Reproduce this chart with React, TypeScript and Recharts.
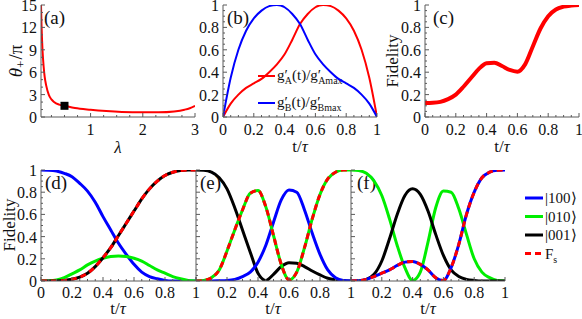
import React from 'react';
import { LineChart, Line, XAxis, YAxis, ReferenceDot } from 'recharts';

const SERIF = '"Liberation Serif", "Times New Roman", Times, serif';
const FRAME = '#5a5a5a';
const INK = '#111';
const RED = '#ff0000';
const BLUE = '#0000ff';
const GREEN = '#00ee00';
const BLACK = '#000000';

// (a) theta_+/pi against lambda
const lambdas = [0.05, 0.06, 0.07, 0.08, 0.1, 0.12, 0.15, 0.2, 0.25, 0.3, 0.4, 0.5, 0.7, 1.0, 1.3, 1.6, 2.0, 2.3, 2.6, 2.8, 2.9, 3.0];
const thetas = [15, 12.3, 10.3, 8.8, 6.8, 5.4, 4.2, 2.95, 2.35, 2.0, 1.65, 1.5, 1.2, 0.97, 0.8, 0.68, 0.62, 0.63, 0.75, 0.98, 1.18, 1.5];
const markLambda = 0.5;
const markTheta = 1.5;

// time grid shared by (b)-(f)
const tGrid = [0, 0.05, 0.1, 0.15, 0.2, 0.25, 0.3, 0.35, 0.4, 0.45, 0.5, 0.55, 0.6, 0.65, 0.7, 0.75, 0.8, 0.85, 0.9, 0.95, 1];

// (b) normalised couplings
const gA = [0, 0.12, 0.2, 0.26, 0.3, 0.34, 0.4, 0.47, 0.56, 0.69, 0.83, 0.92, 0.98, 1.0, 0.99, 0.95, 0.88, 0.77, 0.6, 0.35, 0];
const gB = [0, 0.35, 0.6, 0.77, 0.88, 0.95, 0.99, 1.0, 0.98, 0.92, 0.83, 0.69, 0.56, 0.47, 0.4, 0.34, 0.3, 0.26, 0.2, 0.12, 0];

// (c) fidelity
const fidC = [0.125, 0.127, 0.135, 0.16, 0.2, 0.27, 0.35, 0.43, 0.48, 0.485, 0.455, 0.42, 0.405, 0.47, 0.63, 0.79, 0.9, 0.96, 0.985, 0.995, 1];

// (d) populations
const d100 = [1, 0.998, 0.99, 0.97, 0.94, 0.88, 0.81, 0.71, 0.58, 0.46, 0.34, 0.24, 0.15, 0.08, 0.04, 0.02, 0.005, 0, 0, 0, 0];
const d010 = [0, 0.002, 0.01, 0.03, 0.065, 0.1, 0.145, 0.18, 0.205, 0.22, 0.225, 0.22, 0.205, 0.18, 0.14, 0.1, 0.07, 0.04, 0.02, 0.005, 0];
const d001 = [0, 0, 0.001, 0.005, 0.015, 0.035, 0.07, 0.13, 0.21, 0.3, 0.41, 0.52, 0.63, 0.74, 0.83, 0.9, 0.95, 0.98, 0.995, 1, 1];

// (e) populations
const e100 = [0, 0, 0, 0.002, 0.005, 0.015, 0.04, 0.08, 0.17, 0.32, 0.53, 0.73, 0.82, 0.8, 0.64, 0.43, 0.24, 0.1, 0.03, 0.005, 0];
const e010 = [0, 0.005, 0.03, 0.1, 0.27, 0.46, 0.64, 0.79, 0.815, 0.67, 0.41, 0.15, 0.01, 0.08, 0.3, 0.56, 0.78, 0.92, 0.98, 1, 1];
const e001 = [1, 0.998, 0.98, 0.93, 0.83, 0.66, 0.46, 0.26, 0.07, 0.005, 0.06, 0.13, 0.165, 0.16, 0.13, 0.09, 0.055, 0.025, 0.01, 0.002, 0];

// (f) populations
const f100 = [0, 0.003, 0.015, 0.04, 0.07, 0.1, 0.14, 0.17, 0.175, 0.15, 0.1, 0.03, 0.005, 0.12, 0.33, 0.6, 0.8, 0.93, 0.98, 0.997, 1];
const f010 = [1, 0.995, 0.97, 0.9, 0.77, 0.56, 0.32, 0.12, 0.005, 0.08, 0.35, 0.66, 0.81, 0.8, 0.65, 0.42, 0.2, 0.08, 0.03, 0.005, 0];
const f001 = [0, 0.002, 0.015, 0.06, 0.18, 0.38, 0.6, 0.77, 0.83, 0.78, 0.63, 0.42, 0.23, 0.1, 0.04, 0.015, 0.005, 0, 0, 0, 0];

// ticks
const range = (a: number, b: number, s: number) => {
  const out: number[] = [];
  for (let v = a; v <= b + 1e-9; v += s) out.push(Math.round(v * 1000) / 1000);
  return out;
};
const unitMajor = [0, 0.2, 0.4, 0.6, 0.8, 1];
const unitNoZero = [0.2, 0.4, 0.6, 0.8, 1];
const unitMinor = range(0, 1, 0.05);
const lambdaMajor = [1, 2, 3];
const lambdaMinor = range(0.25, 3, 0.25);
const thetaMajor = [0, 3, 6, 9, 12, 15];
const thetaMinor = range(0, 15, 1);

const legendStates = ['|100⟩', '|010⟩', '|001⟩'];
const legendColors = [BLUE, GREEN, BLACK];

const rowsA = lambdas.map((l, i) => ({ l, th: thetas[i] }));
const rowsT = tGrid.map((t, i) => ({
  t,
  gA: gA[i], gB: gB[i], fc: fidC[i],
  d100: d100[i], d010: d010[i], d001: d001[i],
  e100: e100[i], e010: e010[i], e001: e001[i],
  f100: f100[i], f010: f010[i], f001: f001[i],
}));

const has = (arr: number[], v: number) => arr.some((m) => Math.abs(m - v) < 1e-6);
const fmt = (v: number) => String(+v.toFixed(1));

type Side = 'bottom' | 'top' | 'left' | 'right';
const makeTick = (side: Side, majors: number[], labels: number[], off = 17) => (props: any) => {
  const { x, y, payload } = props;
  const v = payload.value as number;
  const len = has(majors, v) ? 4 : 2;
  let x2 = x;
  let y2 = y;
  if (side === 'bottom') y2 = y - len;
  if (side === 'top') y2 = y + len;
  if (side === 'left') x2 = x + len;
  if (side === 'right') x2 = x - len;
  const show = has(labels, v);
  return (
    <g>
      <line x1={x} y1={y} x2={x2} y2={y2} stroke={FRAME} strokeWidth={1} />
      {show && side === 'bottom' && (
        <text x={x} y={y + off} textAnchor="middle" fontSize={16} fontFamily={SERIF} fill={INK}>{fmt(v)}</text>
      )}
      {show && side === 'left' && (
        <text x={x - 4} y={y + 6} textAnchor="end" fontSize={16} fontFamily={SERIF} fill={INK}>{fmt(v)}</text>
      )}
    </g>
  );
};

type AxisCfg = { key: string; domain: [number, number]; ticks: number[]; majors: number[]; labels: number[] };

const frameAxes = (xc: AxisCfg, yc: AxisCfg, yWidth: number, xHeight: number, off: number) => {
  const common = { type: 'number' as const, interval: 0, tickSize: 0, tickMargin: 0, tickLine: false, axisLine: { stroke: FRAME }, allowDataOverflow: true };
  return [
    <XAxis key="xb" dataKey={xc.key} domain={xc.domain} ticks={xc.ticks} height={xHeight} tick={makeTick('bottom', xc.majors, xc.labels, off)} {...common} />,
    <XAxis key="xt" xAxisId="top" orientation="top" dataKey={xc.key} domain={xc.domain} ticks={xc.ticks} height={0} tick={makeTick('top', xc.majors, [])} {...common} />,
    <YAxis key="yl" domain={yc.domain} ticks={yc.ticks} width={yWidth} tick={makeTick('left', yc.majors, yc.labels)} {...common} />,
    <YAxis key="yr" yAxisId="right" orientation="right" domain={yc.domain} ticks={yc.ticks} width={0} tick={makeTick('right', yc.majors, [])} {...common} />,
  ];
};

const tAxis = (labels: number[]): AxisCfg => ({ key: 't', domain: [0, 1], ticks: unitMinor, majors: unitMajor, labels });
const fAxis = (labels: number[]): AxisCfg => ({ key: 'v', domain: [0, 1], ticks: unitMinor, majors: unitMajor, labels });

const line = (key: string, color: string, width: number, dash?: string) => (
  <Line key={key + (dash ? '-d' : '')} type="monotone" dataKey={key} stroke={color} strokeWidth={width} strokeDasharray={dash} dot={false} isAnimationActive={false} />
);

const PanelLabel = ({ x, y, s }: { x: number; y: number; s: string }) => (
  <text x={x} y={y} fontSize={19} fontFamily={SERIF} fill={INK}>{s}</text>
);
const TTitle = ({ x, y }: { x: number; y: number }) => (
  <text x={x} y={y} textAnchor="middle" fontSize={17} fontFamily={SERIF} fill={INK}>t/<tspan fontStyle="italic">τ</tspan></text>
);
const YTitle = ({ x, y, size = 17, children }: { x: number; y: number; size?: number; children: React.ReactNode }) => (
  <text x={x} y={y} transform={`rotate(-90, ${x}, ${y})`} textAnchor="middle" dominantBaseline="central" fontSize={size} fontFamily={SERIF} fill={INK}>{children}</text>
);

const box = (left: number, top: number): React.CSSProperties => ({ position: 'absolute', left, top });

export default function App() {
  return (
    <div style={{ position: 'absolute', left: 0, top: 0, width: 582, height: 319, background: '#fff', fontFamily: SERIF, overflow: 'hidden' }}>
      {/* (a) */}
      <div style={box(0, 0)}>
        <LineChart width={200} height={160} data={rowsA} margin={{ top: 5, right: 5, bottom: 0, left: 0 }}>
          {frameAxes(
            { key: 'l', domain: [0.05, 3], ticks: lambdaMinor, majors: lambdaMajor, labels: lambdaMajor },
            { key: 'th', domain: [0, 15], ticks: thetaMinor, majors: thetaMajor, labels: thetaMajor },
            41, 43, 17.5,
          )}
          {line('th', RED, 2)}
          <ReferenceDot x={markLambda} y={markTheta} r={4} shape={(p: any) => <rect x={p.cx - 4} y={p.cy - 4} width={8} height={8} fill={BLACK} />} />
          <PanelLabel x={44} y={24} s="(a)" />
          <YTitle x={15} y={61} size={19}>
            <tspan fontStyle="italic">θ</tspan>
            <tspan dy={5} fontSize={13}>+</tspan>
            <tspan dy={-5} dx={1}>/π</tspan>
          </YTitle>
          <text x={118} y={153} textAnchor="middle" fontSize={17} fontFamily={SERIF} fill={INK} fontStyle="italic">λ</text>
        </LineChart>
      </div>

      {/* (b) */}
      <div style={box(190, 0)}>
        <LineChart width={192} height={160} data={rowsT} margin={{ top: 5, right: 5, bottom: 0, left: 0 }}>
          {frameAxes(tAxis(unitMajor), { ...fAxis(unitMajor), key: 'gA' }, 33, 43, 17.5)}
          {line('gA', RED, 2)}
          {line('gB', BLUE, 2)}
          <PanelLabel x={37} y={24} s="(b)" />
          <TTitle x={110} y={152} />
          <line x1={68} y1={76} x2={85} y2={76} stroke={RED} strokeWidth={2} />
          <text x={87} y={80} fontSize={15} fontFamily={SERIF} fill={INK}>
            g′<tspan dx={-3} dy={4} fontSize={10}>A</tspan>
            <tspan dy={-4} fontSize={15}>(t)/g′</tspan>
            <tspan dx={-3} dy={4} fontSize={10}>Amax</tspan>
          </text>
          <line x1={68} y1={103} x2={85} y2={103} stroke={BLUE} strokeWidth={2} />
          <text x={87} y={107} fontSize={15} fontFamily={SERIF} fill={INK}>
            g′<tspan dx={-3} dy={4} fontSize={10}>B</tspan>
            <tspan dy={-4} fontSize={15}>(t)/g′</tspan>
            <tspan dx={-3} dy={4} fontSize={10}>Bmax</tspan>
          </text>
        </LineChart>
      </div>

      {/* (c) */}
      <div style={box(380, 0)}>
        <LineChart width={202} height={160} data={rowsT} margin={{ top: 5, right: 3, bottom: 0, left: 0 }}>
          {frameAxes(tAxis(unitMajor), { ...fAxis(unitMajor), key: 'fc' }, 45, 43, 17.5)}
          {line('fc', RED, 4)}
          <PanelLabel x={53} y={24} s="(c)" />
          <TTitle x={122} y={152} />
          <YTitle x={12} y={61}>Fidelity</YTitle>
        </LineChart>
      </div>

      {/* (d) */}
      <div style={box(0, 155)}>
        <LineChart width={200} height={164} data={rowsT} margin={{ top: 15, right: 4, bottom: 0, left: 0 }}>
          {frameAxes(tAxis(unitMajor), { ...fAxis(unitMajor), key: 'd100' }, 41, 38, 16.5)}
          {line('d100', BLUE, 3)}
          {line('d010', GREEN, 3)}
          {line('d001', BLACK, 3)}
          {line('d001', RED, 3, '6 4')}
          <PanelLabel x={45} y={34} s="(d)" />
          <TTitle x={118} y={159} />
          <YTitle x={9} y={70}>Fidelity</YTitle>
        </LineChart>
      </div>

      {/* (e) */}
      <div style={box(190, 155)}>
        <LineChart width={165} height={164} data={rowsT} margin={{ top: 15, right: 4, bottom: 0, left: 0 }}>
          {frameAxes(tAxis(unitNoZero), { ...fAxis([]), key: 'e100' }, 6, 38, 16.5)}
          {line('e001', BLACK, 3)}
          {line('e100', BLUE, 3)}
          {line('e010', GREEN, 3)}
          {line('e010', RED, 3, '6 4')}
          <PanelLabel x={10} y={34} s="(e)" />
          <TTitle x={83} y={159} />
        </LineChart>
      </div>

      {/* (f) with legend */}
      <div style={box(345, 155)}>
        <LineChart width={237} height={164} data={rowsT} margin={{ top: 15, right: 77, bottom: 0, left: 0 }}>
          {frameAxes(tAxis(unitNoZero), { ...fAxis([]), key: 'f100' }, 6, 38, 16.5)}
          {line('f010', GREEN, 3)}
          {line('f001', BLACK, 3)}
          {line('f100', BLUE, 3)}
          {line('f100', RED, 3, '6 4')}
          <PanelLabel x={12} y={34} s="(f)" />
          <TTitle x={83} y={159} />
          {legendStates.map((s, i) => (
            <g key={s}>
              <line x1={180} y1={43 + i * 18.5} x2={198} y2={43 + i * 18.5} stroke={legendColors[i]} strokeWidth={3} />
              <text x={200} y={48 + i * 18.5} fontSize={15} fontFamily={SERIF} fill={INK}>{s}</text>
            </g>
          ))}
          <line x1={180} y1={98.5} x2={198} y2={98.5} stroke={RED} strokeWidth={3} strokeDasharray="6 4" />
          <text x={200} y={103.5} fontSize={15} fontFamily={SERIF} fill={INK}>
            F<tspan dy={4} fontSize={10}>s</tspan>
          </text>
        </LineChart>
      </div>
    </div>
  );
}
